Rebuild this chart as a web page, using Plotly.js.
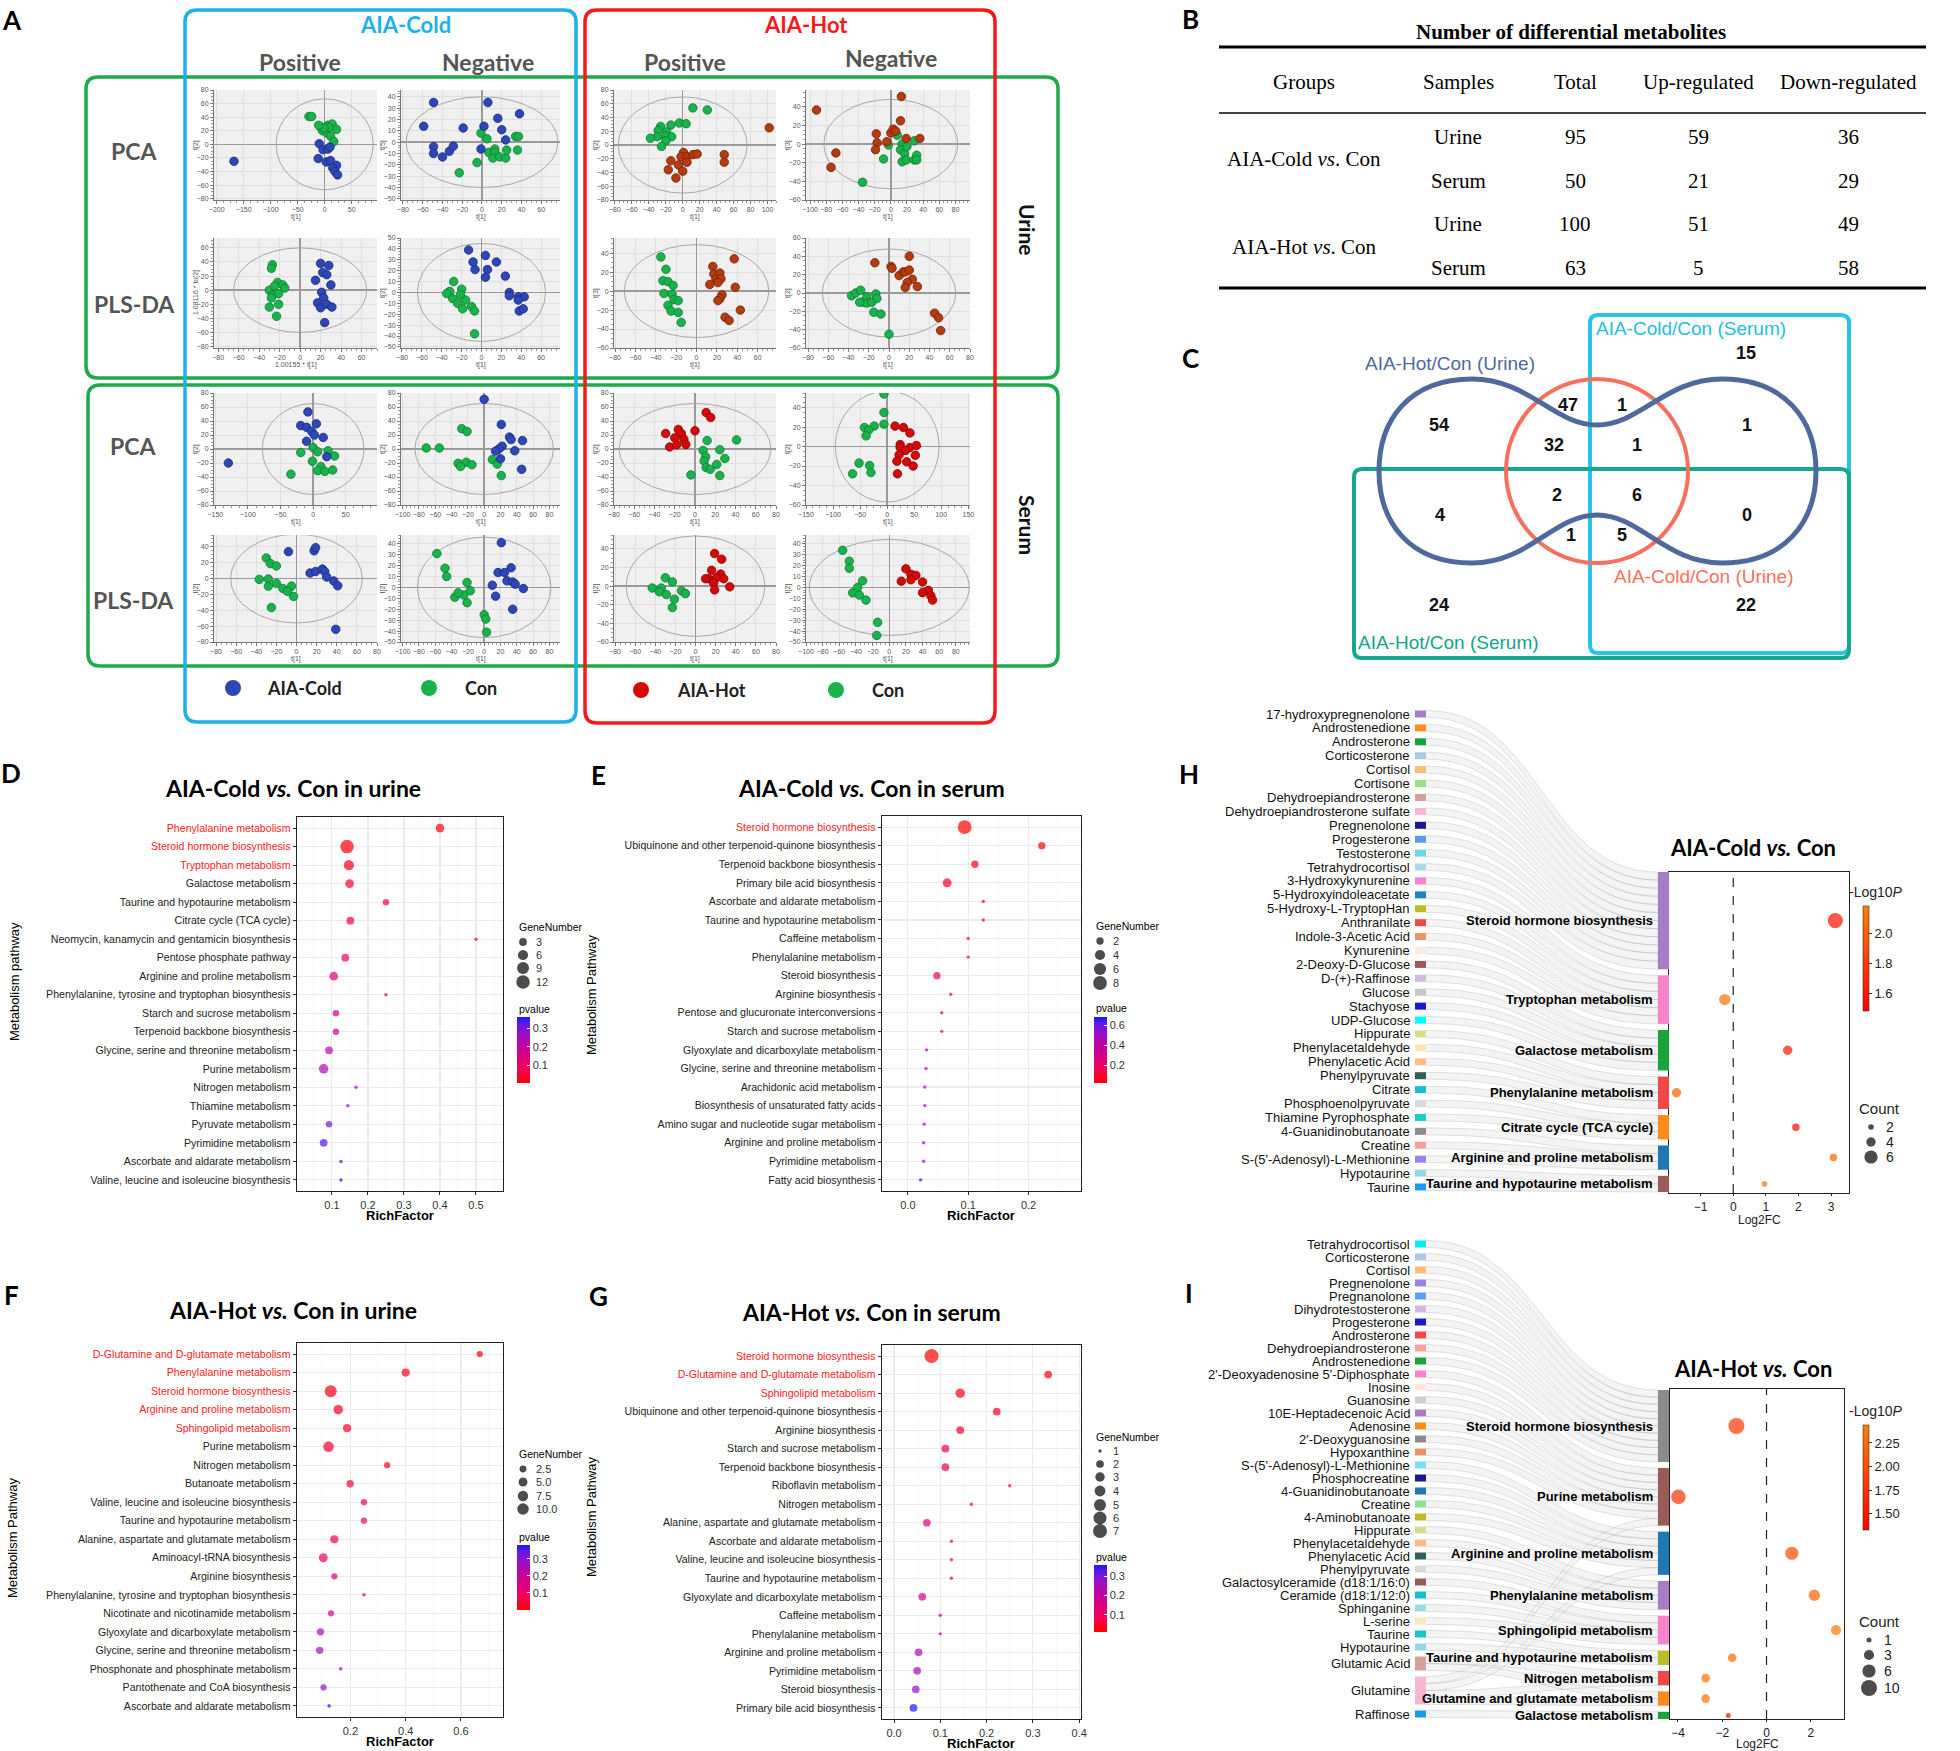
<!DOCTYPE html>
<html>
<head>
<meta charset="utf-8">
<script src="https://cdn.plot.ly/plotly-3.0.1.min.js"></script>
<style>html,body{margin:0;padding:0;background:#fff}#chart{width:1960px;height:1751px}</style>
</head>
<body>
<div id="chart"></div>
<script>
// ======================= DATA =======================
// ---- Panel A: score plots (t[1], t[2]) ----
const A1_cold_x=[-168,-10,-3,6,10,-12,3,11,22,15,19,24];
const A1_cold_y=[-25,1,-8,-7,-4,-21,-26,-24,-31,-35,-40,-45];
const A1_con_x=[-29,-24,-8,6,14,22,-4,4,8,11,17,-1,-11];
const A1_con_y=[41,41,26,28,30,22,20,17,25,12,4,24,28];
const A2_cold_x=[-49,6,38,-59,-19,2,16,20,24,-49,-49,-40,-33,-29,-1];
const A2_cold_y=[35,35,25,14,12.5,14,21,11,2,-4,-10,-13,-8,-3.5,-6];
const A2_con_x=[-1,5,7,13,13,11,18,24,25,34,37,36,-5,-23];
const A2_con_y=[8,3,-9,-6,-9,-14,-13,-14,-7,5,5,-7,-18,-27];
const A3_cold_x=[20,28,22,26,15,30,21,23,17,20,26,31,24];
const A3_cold_y=[38,35,25,22,14,7.5,-3,-11,-18,-25,-20,-24,-46];
const A3_con_x=[-27,-28,-22,-17,-15,-30,-27,-21,-28,-21,-30,-23,-25];
const A3_con_y=[36,31,11,7.5,3,0,-7,-5,-11,-20,-24,-37,6];
const A4_cold_x=[-13,4,-8.5,15,-6.5,6,4,24,28,28,37,43,37,38,42];
const A4_cold_y=[39,34,28,28,21,21,14,15,0,-3,-4,-4,-7,-17,-15];
const A4_con_x=[-28,-32,-35,-29,-20,-21,-16,-24,-19,-10,-7,-7];
const A4_con_y=[10,1,-1,-5.5,3,-2,-7,-10,-15,-13,-17,-38];
const A5_hot_x=[102,1,-2,5,12,17,5,-14,-5,0,-17,-8,49,49];
const A5_hot_y=[25,-11,-17,-17,-14,-13,-25,-23,-29,-38,-36,-48,-14,-25];
const A5_con_x=[12,29,-4,4,-14,-26,-29,-19,-20,-13,-30,-38,-20,-25];
const A5_con_y=[54,51,32,31,29,27,21,19,13,12,12,10,6,-2];
const A6_hot_x=[-92,13,12,-18,-17,-19,-5,0,3,6,19,36,-68,-74];
const A6_hot_y=[36.5,51,25,11,1.4,-6,2.5,12,16,14,6,6,-9.5,-25];
const A6_con_x=[8,14,12,17,20,29,14,19,29,32,32,-3,-9,-35];
const A6_con_y=[9.5,0,-6,-10,-2.5,3.5,-19,-17,-17,-12,-17,-1,-16,-41];
const A7_hot_x=[16,17,23,19,24,21,13,25,23,21,37,38,43,28,32];
const A7_hot_y=[26,18,19,12.5,13,9,7,-4,-8,-10,34,4,-20,-27.5,-31];
const A7_con_x=[-35,-30,-33,-28,-23,-32,-24,-22,-18,-28,-25,-18,-15];
const A7_con_y=[36,23,11,10,6,-2.5,-3.5,-9,-10,-15,-21,-22.5,-33];
const A8_hot_x=[-14,2,3,10,14,16,20,20,23,18,16,28,45,49,51];
const A8_hot_y=[33,29,27,19,23,23,25,40,15,11.5,6,7,-22,-27,-41];
const A8_con_x=[-37,-33,-28,-26,-22,-22,-17,-13,-12,-15,-8,0,-29];
const A8_con_y=[-3,0,3,-10,-4,-11,-10,-1,-6,-21,-23,-45,-10];
const A9_cold_x=[-130,-8,5,-19,-10,-2,2,15.5,-10,21];
const A9_cold_y=[-20,53,36,33.5,31,25,20,16.5,11,-11];
const A9_con_x=[0,7,-19,23,33,-1,12,7,18,30,-34];
const A9_con_y=[2,-4,-5,-2.5,-10,-17.5,-25,-31,-32,-30,-36];
const A10_cold_x=[0,21,31,33,47,22,18,14,37.5,20,46];
const A10_cold_y=[71,35,17,13.5,12,4,0,-3,-2.5,-14,-29];
const A10_con_x=[-71,-55,-27.5,-21,-32,-22,-15,-29,10,16,21];
const A10_con_y=[1.5,1.5,29,25,-20.5,-19,-22.5,-25,-15,-21.5,-38];
const A11_cold_x=[-8,17.5,19,13.5,19,25.7,28,30,37,41,39];
const A11_cold_y=[34,35,39,7,9,12,9,2,-3,-9,-64];
const A11_con_x=[-30,-26,-20,-37,-28,-28,-20,-13.5,-5,-3,-9,-25];
const A11_con_y=[26,19,16,-1,-0.5,-9.5,-6,-12.5,-9.5,-22.5,-16,-36.5];
const A12_cold_x=[21,17,25,33,28,35,10,48,14,35,38];
const A12_cold_y=[41,13.6,13.6,18,6,5,2,-1,-8,-20,3];
const A12_con_x=[-58,-48,-46,-21,-17,-25,-36,-32,-21,0,2,3];
const A12_con_y=[31,17.5,10,4.5,-3,-7,-9,-5,-14,-25,-29,-41];
const A13_hot_x=[11,15.5,-29,-16.5,-13.5,-20,-11,0,-25,-18,-9];
const A13_hot_y=[52,45,22,28,22,16,14,26,3,6,6.5];
const A13_con_x=[12,41,8,24.5,10.5,9,29.5,21.5,11,15,24.5,-4];
const A13_con_y=[12,13,-2,-1,-11,-17,-13.5,-22,-26.5,-29,-38,-37];
const A14_hot_x=[14.5,30,42,24,24,42,54,34,22,52,18,36,48,19];
const A14_hot_y=[21,19.5,14,2,-1,-1,1,-4,-8.5,-9,-15,-15.6,-20,-28];
const A14_con_x=[-6,-6,-6,-24,-42,-34,-39,-52,-32.5,-30,-64];
const A14_con_y=[54,35,23,21,19.5,17,11,-17,-19.5,-26.6,-28];
const A15_hot_x=[19,26,16,25,13,21,28,10,18,34,19];
const A15_hot_y=[35,29,17,13,8,9,8,8,3.5,-0.7,-4];
const A15_con_x=[-30,-23,-43,-34,-36,-29,-21,-14,-10,-23];
const A15_con_y=[9,4.6,-2,-2,-6,-9,-14,-5,-8,-23];
const A16_hot_x=[20,26,32,14.5,40,26,47,50,40,52];
const A16_hot_y=[17,12,11,5.7,5,7,-2.7,-7.7,-4.8,-11.6];
const A16_con_x=[-56,-48,-48,-32,-38,-44,-36,-28,-14,-15];
const A16_con_y=[34,24,17.5,6,0,-5,-7,-11.6,-32,-44];
// Hotelling T2 ellipse half-axes for each score plot
const A_ellipseA=[90,77,65,64.5,76,83,71,66,78,85,65.5,82,75,96,69,96];
const A_ellipseB=[67,40,60,45,70,48,49,48,65,65,56,46,65,57,54,44];
const A_xtitle=['t[1]','t[1]','1.00155 * t[1]','t[1]','t[1]','t[1]','t[1]','t[1]','t[1]','t[1]','t[1]','t[1]','t[1]','t[1]','t[1]','t[1]'];
const A_ytitle=['t[2]','t[5]','1.08116 * to[2]','t[2]','t[2]','t[3]','t[3]','t[2]','t[2]','t[2]','t[2]','t[2]','t[2]','t[2]','t[2]','t[2]'];
const A_groupNames=['AIA-Cold','Con','AIA-Hot','Con'];

// ---- Panel B: table ----
const B_header=['Groups','Samples','Total','Up-regulated','Down-regulated'];
const B_groups=['AIA-Cold <i>vs</i>. Con','AIA-Hot <i>vs</i>. Con'];
const B_samples=['Urine','Serum','Urine','Serum'];
const B_total=[95,50,100,63];
const B_up=[59,21,51,5];
const B_down=[36,29,49,58];

// ---- Panel C: Venn ----
const C_sets=['AIA-Hot/Con (Urine)','AIA-Cold/Con (Urine)','AIA-Cold/Con (Serum)','AIA-Hot/Con (Serum)'];
const C_regionCounts=[15,54,47,1,1,32,1,2,6,4,0,1,5,24,22];

// ---- Panels D-G: KEGG enrichment ----
const D_pathways=['Phenylalanine metabolism','Steroid hormone biosynthesis','Tryptophan metabolism','Galactose metabolism','Taurine and hypotaurine metabolism','Citrate cycle (TCA cycle)','Neomycin, kanamycin and gentamicin biosynthesis','Pentose phosphate pathway','Arginine and proline metabolism','Phenylalanine, tyrosine and tryptophan biosynthesis','Starch and sucrose metabolism','Terpenoid backbone biosynthesis','Glycine, serine and threonine metabolism','Purine metabolism','Nitrogen metabolism','Thiamine metabolism','Pyruvate metabolism','Pyrimidine metabolism','Ascorbate and aldarate metabolism','Valine, leucine and isoleucine biosynthesis'];
const D_rich=[0.40,0.142,0.147,0.149,0.25,0.151,0.50,0.137,0.105,0.25,0.111,0.111,0.092,0.077,0.167,0.144,0.092,0.077,0.125,0.125];
const D_genes=[4,12,6,4,2,3,1,3,4,1,2,2,3,5,1,1,2,3,1,1];
const D_p=[0.01,0.015,0.03,0.06,0.07,0.08,0.08,0.10,0.13,0.15,0.20,0.20,0.22,0.24,0.27,0.28,0.30,0.33,0.34,0.36];
const D_highlighted=3;

const E_pathways=['Steroid hormone biosynthesis','Ubiquinone and other terpenoid-quinone biosynthesis','Terpenoid backbone biosynthesis','Primary bile acid biosynthesis','Ascorbate and aldarate metabolism','Taurine and hypotaurine metabolism','Caffeine metabolism','Phenylalanine metabolism','Steroid biosynthesis','Arginine biosynthesis','Pentose and glucuronate interconversions','Starch and sucrose metabolism','Glyoxylate and dicarboxylate metabolism','Glycine, serine and threonine metabolism','Arachidonic acid metabolism','Biosynthesis of unsaturated fatty acids','Amino sugar and nucleotide sugar metabolism','Arginine and proline metabolism','Pyrimidine metabolism','Fatty acid biosynthesis'];
const E_rich=[0.094,0.222,0.111,0.065,0.125,0.125,0.10,0.10,0.048,0.071,0.056,0.056,0.031,0.030,0.028,0.028,0.027,0.026,0.026,0.021];
const E_genes=[8,2,2,3,1,1,1,1,2,1,1,1,1,1,1,1,1,1,1,1];
const E_p=[0.02,0.04,0.06,0.09,0.12,0.12,0.14,0.14,0.16,0.19,0.24,0.24,0.44,0.45,0.47,0.47,0.49,0.50,0.51,0.68];
const E_highlighted=1;

const F_pathways=['D-Glutamine and D-glutamate metabolism','Phenylalanine metabolism','Steroid hormone biosynthesis','Arginine and proline metabolism','Sphingolipid metabolism','Purine metabolism','Nitrogen metabolism','Butanoate metabolism','Valine, leucine and isoleucine biosynthesis','Taurine and hypotaurine metabolism','Alanine, aspartate and glutamate metabolism','Aminoacyl-tRNA biosynthesis','Arginine biosynthesis','Phenylalanine, tyrosine and tryptophan biosynthesis','Nicotinate and nicotinamide metabolism','Glyoxylate and dicarboxylate metabolism','Glycine, serine and threonine metabolism','Phosphonate and phosphinate metabolism','Pantothenate and CoA biosynthesis','Ascorbate and aldarate metabolism'];
const F_rich=[0.668,0.40,0.129,0.156,0.188,0.121,0.333,0.199,0.249,0.249,0.142,0.102,0.142,0.249,0.130,0.092,0.089,0.165,0.103,0.123];
const F_genes=[2,4,11,6,4,8,2,3,2,2,4,5,2,1,2,3,3,1,2,1];
const F_p=[0.01,0.015,0.02,0.03,0.035,0.04,0.05,0.06,0.07,0.07,0.09,0.11,0.14,0.16,0.18,0.25,0.26,0.28,0.29,0.38];
const F_highlighted=5;

const G_pathways=['Steroid hormone biosynthesis','D-Glutamine and D-glutamate metabolism','Sphingolipid metabolism','Ubiquinone and other terpenoid-quinone biosynthesis','Arginine biosynthesis','Starch and sucrose metabolism','Terpenoid backbone biosynthesis','Riboflavin metabolism','Nitrogen metabolism','Alanine, aspartate and glutamate metabolism','Ascorbate and aldarate metabolism','Valine, leucine and isoleucine biosynthesis','Taurine and hypotaurine metabolism','Glyoxylate and dicarboxylate metabolism','Caffeine metabolism','Phenylalanine metabolism','Arginine and proline metabolism','Pyrimidine metabolism','Steroid biosynthesis','Primary bile acid biosynthesis'];
const G_rich=[0.081,0.333,0.143,0.222,0.143,0.111,0.111,0.25,0.167,0.071,0.124,0.124,0.124,0.061,0.10,0.10,0.053,0.05,0.047,0.042];
const G_genes=[7,2,3,2,2,2,2,1,1,2,1,1,1,2,1,1,2,2,2,2];
const G_p=[0.01,0.02,0.03,0.04,0.05,0.07,0.07,0.10,0.12,0.14,0.15,0.15,0.15,0.18,0.19,0.19,0.23,0.24,0.27,0.36];
const G_highlighted=3;

// ---- Panel H ----
const H_metabolites=['17-hydroxypregnenolone','Androstenedione','Androsterone','Corticosterone','Cortisol','Cortisone','Dehydroepiandrosterone','Dehydroepiandrosterone sulfate','Pregnenolone','Progesterone','Testosterone','Tetrahydrocortisol','3-Hydroxykynurenine','5-Hydroxyindoleacetate','5-Hydroxy-L-TryptopHan','Anthranilate','Indole-3-Acetic Acid','Kynurenine','2-Deoxy-D-Glucose','D-(+)-Raffinose','Glucose','Stachyose','UDP-Glucose','Hippurate','Phenylacetaldehyde','Phenylacetic Acid','Phenylpyruvate','Citrate','Phosphoenolpyruvate','Thiamine Pyrophosphate','4-Guanidinobutanoate','Creatine',"S-(5'-Adenosyl)-L-Methionine",'Hypotaurine','Taurine'];
const H_metaboliteColors=['#A77DC6','#FF8C1A','#1AA33A','#AEC7E8','#FFBB78','#98DF8A','#D4A39B','#F7B6D2','#1A1A8C','#5A9BEB','#6FD6EA','#A8DCE8','#F782CE','#1A86BE','#BCBD22','#F24747','#E8956B','#FBEBDC','#9A5B56','#D2BADD','#C7C7C7','#1A1ACC','#00FFFF','#DBDB8D','#FFE3B5','#FFBD8A','#2F5F5A','#17BECF','#D9D9D9','#20C8C8','#8C8C8C','#F7A09A','#9A80F0','#90DAE3','#1A9AEF'];
const H_pathways=['Steroid hormone biosynthesis','Tryptophan metabolism','Galactose metabolism','Phenylalanine metabolism','Citrate cycle (TCA cycle)','Arginine and proline metabolism','Taurine and hypotaurine metabolism'];
const H_pathwayColors=['#A77DC6','#F782CE','#1AA33A','#F24747','#FF8C1A','#1F78B4','#9A5B56'];
const H_linkSource=[0,1,2,3,4,5,6,7,8,9,10,11,12,13,14,15,16,17,18,19,20,21,22,23,24,25,26,27,28,29,30,31,32,33,34];
const H_linkTarget=[0,0,0,0,0,0,0,0,0,0,0,0,1,1,1,1,1,1,2,2,2,2,2,3,3,3,3,4,4,4,5,5,5,6,6];
const H_log2fc=[3.13,-0.26,1.67,-1.74,1.92,3.07,0.96];
const H_count=[7,5,4,4,3,3,2];
const H_log10p=[1.55,2.1,1.6,2.0,1.52,2.02,2.12];

// ---- Panel I ----
const I_metabolites=['Tetrahydrocortisol','Corticosterone','Cortisol','Pregnenolone','Pregnanolone','Dihydrotestosterone','Progesterone','Androsterone','Dehydroepiandrosterone','Androstenedione',"2'-Deoxyadenosine 5'-Diphosphate",'Inosine','Guanosine','10E-Heptadecenoic Acid','Adenosine',"2'-Deoxyguanosine",'Hypoxanthine',"S-(5'-Adenosyl)-L-Methionine",'Phosphocreatine','4-Guanidinobutanoate','Creatine','4-Aminobutanoate','Hippurate','Phenylacetaldehyde','Phenylacetic Acid','Phenylpyruvate','Galactosylceramide (d18:1/16:0)','Ceramide (d18:1/12:0)','Sphinganine','L-serine','Taurine','Hypotaurine','Glutamic Acid','Glutamine','Raffinose'];
const I_metaboliteColors=['#00F0F0','#AEC7E8','#FFBB78','#9C80EF','#5DA0F0','#D5B8DC','#1A1ACC','#F24848','#FF9E9A','#1AA33A','#F782CE','#FDEBD8','#CFCFCF','#A77DC6','#FF8C1A','#8C8C8C','#E8946A','#7FDBF0','#1A1A8C','#1F78B4','#8EE08E','#BCBD22','#DBDB8D','#FFBB88','#2F5F5A','#D9D9D9','#9A5B56','#17BECF','#9EDAE5','#FFE8B8','#17C6C6','#8FD9E0','#D4A29A','#F7B6D2','#1A9AEF'];
const I_pathways=['Steroid hormone biosynthesis','Purine metabolism','Arginine and proline metabolism','Phenylalanine metabolism','Sphingolipid metabolism','Taurine and hypotaurine metabolism','Nitrogen metabolism','Glutamine and glutamate metabolism','Galactose metabolism'];
const I_pathwayColors=['#8C8C8C','#9A5B56','#1F78B4','#A77DC6','#F782CE','#BCBD22','#F24747','#FF8C1A','#1AA33A'];
const I_linkSource=[0,1,2,3,4,5,6,7,8,9,10,11,12,13,14,15,16,33,17,18,19,20,21,33,22,23,24,25,26,27,28,29,30,31,32,33,32,33,34];
const I_linkTarget=[0,0,0,0,0,0,0,0,0,0,1,1,1,1,1,1,1,1,2,2,2,2,2,2,3,3,3,3,4,4,4,4,5,5,6,6,7,7,8];
const I_log2fc=[-1.36,-3.98,1.14,2.16,3.14,-1.55,-2.75,-2.75,-1.73];
const I_count=[10,8,6,4,3,2,2,2,1];
const I_log10p=[1.8,1.75,1.95,2.15,2.35,2.25,2.3,2.3,1.4];

// ======================= BUILD =======================
const W=1960,H=1751;
const X=p=>p/W, Y=p=>1-p/H;
const SANS='"Liberation Sans", Arial, Helvetica, sans-serif';
const NARROW='"Liberation Sans Narrow", "Arial Narrow", "Liberation Sans", sans-serif';
const CAL='Lato, Carlito, Calibri, "Open Sans", sans-serif';
const SERIF='"Liberation Serif", "Times New Roman", serif';
const layout={width:W,height:H,margin:{l:0,r:0,t:0,b:0,pad:0},paper_bgcolor:'#ffffff',plot_bgcolor:'rgba(0,0,0,0)',showlegend:false,hovermode:false,shapes:[],annotations:[],font:{family:SANS,color:'#000'}};
const traces=[];
const shapes=layout.shapes, anns=layout.annotations;
let nAx=0;
function axes(x0,x1,y0,y1,xo,yo){
  nAx++; const s=nAx===1?'':String(nAx);
  layout['xaxis'+s]=Object.assign({domain:[X(x0),X(x1)],anchor:'y'+s,fixedrange:true},xo);
  layout['yaxis'+s]=Object.assign({domain:[Y(y1),Y(y0)],anchor:'x'+s,fixedrange:true},yo);
  return {x:'x'+s,y:'y'+s};
}
function Fn(family,size,color){return {family:family,size:size,color:color||'#000'};}
function ann(x,y,text,font,opt){anns.push(Object.assign({xref:'paper',yref:'paper',x:X(x),y:Y(y),text:text,showarrow:false,xanchor:'center',yanchor:'middle',font:font},opt||{}));}
// page pixel axes
const pg=axes(0,W,0,H,{range:[0,W],visible:false},{range:[H,0],visible:false});
function rrect(x0,y0,x1,y1,r){return `M${x0+r},${y0} L${x1-r},${y0} Q${x1},${y0} ${x1},${y0+r} L${x1},${y1-r} Q${x1},${y1} ${x1-r},${y1} L${x0+r},${y1} Q${x0},${y1} ${x0},${y1-r} L${x0},${y0+r} Q${x0},${y0} ${x0+r},${y0} Z`;}
function pshape(path,color,width,layer){shapes.push({type:'path',xref:pg.x,yref:pg.y,path:path,line:{color:color,width:width},fillcolor:'rgba(0,0,0,0)',layer:layer||'above'});}
function hline(x0,x1,y,color,width){shapes.push({type:'line',xref:pg.x,yref:pg.y,x0:x0,x1:x1,y0:y,y1:y,line:{color:color,width:width}});}

// panel letters
[['A',12,20],['B',1190,19],['C',1190,358],['D',11,773],['E',598,775],['F',11,1295],['G',598,1296],['H',1189,774],['I',1189,1293]].forEach(l=>ann(l[1],l[2],'<b>'+l[0]+'</b>',Fn(CAL,26,'#000')));

// ---------------- Panel A ----------------
const COLD={fill:'#2E47B8',edge:'#1B2A7A'}, CON={fill:'#19B24B',edge:'#0D7A31'}, HOTU={fill:'#B53B10',edge:'#6E2105'}, HOTS={fill:'#D40A0A',edge:'#8A0000'};
const A_cols=[[214,377],[401,560],[614,776],[806,970]];
const A_rows=[[90,200],[238,348],[393,505],[535,642]];
const A_place=[[0,0],[1,0],[0,1],[1,1],[2,0],[3,0],[2,1],[3,1],[0,2],[1,2],[0,3],[1,3],[2,2],[3,2],[2,3],[3,3]];
const A_xrange=[[-205,97],[-82,79],[-84,75],[-81,79],[-81,110],[-105,98],[-81,78],[-82,80],[-152,98],[-102,93],[-82,80],[-102,93],[-80,80],[-150,153],[-81,80],[-100,97]];
const A_yrange=[[-82,80],[-51,46],[-82,74],[-51,50],[-80,80],[-60,58],[-60,56],[-60,60],[-80,80],[-80,80],[-80,55],[-50,48],[-80,80],[-60,55],[-60,55],[-50,48]];
const A_xd=[50,20,20,20,20,20,20,20,50,20,20,20,20,50,20,20];
const A_yd=[20,10,20,10,20,20,20,20,20,20,20,10,20,20,20,10];
const A_g1=[[A1_cold_x,A1_cold_y],[A2_cold_x,A2_cold_y],[A3_cold_x,A3_cold_y],[A4_cold_x,A4_cold_y],[A5_hot_x,A5_hot_y],[A6_hot_x,A6_hot_y],[A7_hot_x,A7_hot_y],[A8_hot_x,A8_hot_y],[A9_cold_x,A9_cold_y],[A10_cold_x,A10_cold_y],[A11_cold_x,A11_cold_y],[A12_cold_x,A12_cold_y],[A13_hot_x,A13_hot_y],[A14_hot_x,A14_hot_y],[A15_hot_x,A15_hot_y],[A16_hot_x,A16_hot_y]];
const A_g2=[[A1_con_x,A1_con_y],[A2_con_x,A2_con_y],[A3_con_x,A3_con_y],[A4_con_x,A4_con_y],[A5_con_x,A5_con_y],[A6_con_x,A6_con_y],[A7_con_x,A7_con_y],[A8_con_x,A8_con_y],[A9_con_x,A9_con_y],[A10_con_x,A10_con_y],[A11_con_x,A11_con_y],[A12_con_x,A12_con_y],[A13_con_x,A13_con_y],[A14_con_x,A14_con_y],[A15_con_x,A15_con_y],[A16_con_x,A16_con_y]];
for(let i=0;i<16;i++){
  const [c,r]=A_place[i];
  const tf=Fn(SANS,7,'#555');
  const common={showgrid:true,gridcolor:'#DFDFDF',gridwidth:1,zeroline:true,zerolinecolor:'#9A9A9A',zerolinewidth:1.4,showline:true,linecolor:'#777',linewidth:1,ticks:'outside',ticklen:3,tickcolor:'#777',tickfont:tf,tickmode:'linear',tick0:0};
  const x0=A_cols[c][0],x1=A_cols[c][1],y0=A_rows[r][0],y1=A_rows[r][1];
  const a=axes(x0,x1,y0,y1,
    Object.assign({},common,{range:A_xrange[i],dtick:A_xd[i],minor:{ticks:'outside',ticklen:2,tickcolor:'#999',dtick:A_xd[i]/4}}),
    Object.assign({},common,{range:A_yrange[i],dtick:A_yd[i],minor:{ticks:'outside',ticklen:2,tickcolor:'#999',dtick:A_yd[i]/4}}));
  ann((x0+x1)/2,y1+17,A_xtitle[i],tf);
  ann(x0-18,(y0+y1)/2,A_ytitle[i],tf,{textangle:-90});
  shapes.push({type:'rect',xref:a.x+' domain',yref:a.y+' domain',x0:0,x1:1,y0:0,y1:1,fillcolor:'#F0F0F0',line:{width:0},layer:'below'});
  shapes.push({type:'circle',xref:a.x,yref:a.y,x0:-A_ellipseA[i],x1:A_ellipseA[i],y0:-A_ellipseB[i],y1:A_ellipseB[i],line:{color:'#A8A8A8',width:1},fillcolor:'rgba(0,0,0,0)',layer:'between'});
  const g1c = i<4||(i>=8&&i<12) ? COLD : (i<8 ? HOTU : HOTS);
  traces.push({type:'scatter',mode:'markers',x:A_g2[i][0],y:A_g2[i][1],xaxis:a.x,yaxis:a.y,marker:{size:8.5,color:CON.fill,line:{color:CON.edge,width:0.8}},hoverinfo:'skip'});
  traces.push({type:'scatter',mode:'markers',x:A_g1[i][0],y:A_g1[i][1],xaxis:a.x,yaxis:a.y,marker:{size:8.5,color:g1c.fill,line:{color:g1c.edge,width:0.8}},hoverinfo:'skip'});
}
// boxes
pshape(rrect(86,77,1058,378,12),'#1EAA48',3.5);
pshape(rrect(88,385,1058,666,12),'#1EAA48',3.5);
pshape(rrect(185,10,576,722,12),'#1DB0EA',3.5);
pshape(rrect(585,10,995,723,12),'#F41A1A',3.5);
ann(405,25,'<b>AIA-Cold</b>',Fn(CAL,22,'#1DB0EA'));
ann(806,25,'<b>AIA-Hot</b>',Fn(CAL,22,'#F41A1A'));
ann(300,62,'<b>Positive</b>',Fn(CAL,23,'#555'));
ann(488,62,'<b>Negative</b>',Fn(CAL,23,'#555'));
ann(685,62,'<b>Positive</b>',Fn(CAL,23,'#555'));
ann(891,58,'<b>Negative</b>',Fn(CAL,23,'#555'));
ann(134,151,'<b>PCA</b>',Fn(CAL,23,'#555'));
ann(134,304,'<b>PLS-DA</b>',Fn(CAL,23,'#555'));
ann(133,446,'<b>PCA</b>',Fn(CAL,23,'#555'));
ann(133,600,'<b>PLS-DA</b>',Fn(CAL,23,'#555'));
ann(1028,229,'<b>Urine</b>',Fn(CAL,21,'#111'),{textangle:90});
ann(1028,525,'<b>Serum</b>',Fn(CAL,21,'#111'),{textangle:90});
// legend of panel A
const A_legX=[233,429,641,836], A_legTX=[304,481,711,888], A_legY=[688,688,690,690];
traces.push({type:'scatter',mode:'markers',x:A_legX,y:A_legY,xaxis:pg.x,yaxis:pg.y,marker:{size:16,color:[COLD.fill,CON.fill,HOTS.fill,CON.fill]},hoverinfo:'skip'});
A_groupNames.forEach((n,k)=>ann(A_legTX[k],A_legY[k],'<b>'+n+'</b>',Fn(CAL,18,'#222')));

// ---------------- Panel B ----------------
ann(1571,32,'<b>Number of differential metabolites</b>',Fn(SERIF,21,'#000'));
hline(1219,1926,47,'#000',3);
hline(1219,1926,113,'#000',1.5);
hline(1219,1926,288,'#000',3);
const B_colX=[1304,1458,1575,1698,1848], B_rowY=[137,181,224,268];
B_header.forEach((h,k)=>ann(B_colX[k],82,h,Fn(SERIF,21,'#000')));
B_groups.forEach((g,k)=>ann(B_colX[0],[159,247][k],g,Fn(SERIF,21,'#000')));
B_samples.forEach((s,k)=>{
  ann(B_colX[1],B_rowY[k],s,Fn(SERIF,21,'#000'));
  ann(B_colX[2],B_rowY[k],String(B_total[k]),Fn(SERIF,21,'#000'));
  ann(B_colX[3],B_rowY[k],String(B_up[k]),Fn(SERIF,21,'#000'));
  ann(B_colX[4],B_rowY[k],String(B_down[k]),Fn(SERIF,21,'#000'));
});

// ---------------- Panel C ----------------
pshape(rrect(1590,315,1849,653,8),'#27C4E5',4);
pshape(rrect(1354,469,1849,658,8),'#13A98F',4);
shapes.push({type:'circle',xref:pg.x,yref:pg.y,x0:1506,x1:1688,y0:379,y1:563,line:{color:'#F7705E',width:4},fillcolor:'rgba(0,0,0,0)'});
pshape('M1597,425 C1640,425 1665,379 1722,379 C1785,379 1816,420 1816,471 C1816,522 1785,563 1722,563 C1665,563 1640,515 1597,515 C1554,515 1529,563 1472,563 C1409,563 1379,522 1379,471 C1379,420 1409,379 1472,379 C1529,379 1554,425 1597,425 Z','#4E6A9D',5);
const C_labelPos=[[1450,364,'#4E6A9D'],[1704,576,'#F7705E'],[1691,328,'#22BFE0'],[1448,643,'#10A58C']];
C_sets.forEach((s,k)=>ann(C_labelPos[k][0],C_labelPos[k][1],s,Fn(NARROW,19,C_labelPos[k][2])));
const C_pos=[[1746,353],[1439,425],[1568,405],[1622,405],[1747,425],[1554,445],[1637,445],[1557,495],[1637,495],[1440,515],[1747,515],[1571,535],[1622,535],[1439,605],[1746,605]];
C_regionCounts.forEach((v,k)=>ann(C_pos[k][0],C_pos[k][1],'<b>'+v+'</b>',Fn(SANS,18,'#111')));

// ---------------- Panels D-G ----------------
const PV_SCALE=[[0,'#FF0000'],[0.25,'#EE0062'],[0.5,'#CC0095'],[0.75,'#9A10C8'],[0.9,'#6018E6'],[1,'#1A1AFF']];
function sizeLegend(x,titleY,title,vals,labels,ys,fn,dotX,labX,titleFont,labFont){
  ann(x,titleY,title,titleFont,{xanchor:'left'});
  traces.push({type:'scatter',mode:'markers',x:ys.map(()=>dotX),y:ys,xaxis:pg.x,yaxis:pg.y,marker:{size:vals.map(fn),sizemode:'diameter',color:'#000',line:{width:0}},hoverinfo:'skip'});
  labels.forEach((l,k)=>ann(labX,ys[k],l,labFont,{xanchor:'left'}));
}
function bubblePanel(c){
  const grid={showgrid:true,gridcolor:'#EBEBEB',gridwidth:1.1,showline:true,mirror:true,linecolor:'#222',linewidth:1.4,ticks:'outside',ticklen:3,tickcolor:'#333',zeroline:false};
  const a=axes(c.x0,c.x1,c.y0,c.y1,
    Object.assign({},grid,{range:c.xr,tickmode:'linear',tick0:0,dtick:c.dt,tickformat:'.1f',tickfont:Fn(SANS,11,'#333'),minor:{dtick:c.dt/2,tick0:0,showgrid:true,gridcolor:'#F6F6F6',gridwidth:0.8}}),
    Object.assign({},grid,{type:'category',categoryorder:'array',categoryarray:c.names,range:[c.names.length-0.4,-0.6],tickmode:'array',tickvals:c.names,ticktext:c.names.map((n,k)=>k<c.hl?'<span style="color:#FF1A1A">'+n+'</span>':n),tickfont:Fn(SANS,10.6,'#222')}));
  traces.push({type:'scatter',mode:'markers',x:c.rich,y:c.names,xaxis:a.x,yaxis:a.y,hoverinfo:'skip',
    marker:{size:c.genes.map(c.sz),sizemode:'diameter',color:c.p,cmin:c.cmin,cmax:c.cmax,colorscale:PV_SCALE,line:{width:0},showscale:true,
      colorbar:{x:X(c.cbx),xanchor:'left',xpad:0,y:Y(c.cbBot),yanchor:'bottom',ypad:0,len:(c.cbBot-c.cbTop)/H,lenmode:'fraction',thickness:13,thicknessmode:'pixels',outlinewidth:0,tickmode:'array',tickvals:c.cbTicks,ticktext:c.cbTicks.map(v=>v.toFixed(1)),ticks:'inside',ticklen:3,tickcolor:'#fff',tickfont:Fn(SANS,11,'#333')}}});
  ann(c.tx,c.ty,'<b>'+c.title+'</b>',Fn(CAL,23,'#000'));
  ann(c.ytx,c.yty,c.ytitle,Fn(SANS,13,'#000'),{textangle:-90});
  ann(c.xtx,c.xty,'<b>RichFactor</b>',Fn(SANS,13,'#000'));
  ann(c.cbx,c.pY,'pvalue',Fn(SANS,10.5,'#000'),{xanchor:'left'});
  sizeLegend(c.cbx,c.gY,'GeneNumber',c.lv,c.ll,c.lys,c.sz,c.cbx+6,c.cbx+17,Fn(SANS,10.5,'#000'),Fn(SANS,11,'#333'));
}
bubblePanel({x0:297,x1:503,y0:817,y1:1191,xr:[0.003,0.575],dt:0.1,names:D_pathways,rich:D_rich,genes:D_genes,p:D_p,hl:D_highlighted,cmin:0.005,cmax:0.36,
  sz:g=>3.5+10*Math.sqrt((g-1)/11),cbx:517,cbTop:1017,cbBot:1083,cbTicks:[0.1,0.2,0.3],title:'AIA-Cold <i>vs.</i> Con in urine',tx:293,ty:788,
  ytitle:'Metabolism pathway',ytx:14,yty:982,xtx:400,xty:1215,pY:1009,gY:927,lv:[3,6,9,12],ll:['3','6','9','12'],lys:[942,955,968,982]});
bubblePanel({x0:882,x1:1081,y0:816,y1:1191,xr:[-0.043,0.287],dt:0.1,names:E_pathways,rich:E_rich,genes:E_genes,p:E_p,hl:E_highlighted,cmin:0.02,cmax:0.68,
  sz:g=>3.4+10.4*Math.sqrt((g-1)/7),cbx:1094,cbTop:1017,cbBot:1083,cbTicks:[0.2,0.4,0.6],title:'AIA-Cold <i>vs.</i> Con in serum',tx:871,ty:788,
  ytitle:'Metabolism Pathway',ytx:591,yty:995,xtx:981,xty:1215,pY:1008,gY:926,lv:[2,4,6,8],ll:['2','4','6','8'],lys:[941,955,969,983]});
bubblePanel({x0:297,x1:503,y0:1343,y1:1717,xr:[0.007,0.752],dt:0.2,names:F_pathways,rich:F_rich,genes:F_genes,p:F_p,hl:F_highlighted,cmin:0.0,cmax:0.38,
  sz:g=>3.6+8.4*Math.sqrt((g-1)/10),cbx:517,cbTop:1545,cbBot:1610,cbTicks:[0.1,0.2,0.3],title:'AIA-Hot <i>vs.</i> Con in urine',tx:293,ty:1310,
  ytitle:'Metabolism Pathway',ytx:12,yty:1538,xtx:400,xty:1741,pY:1537,gY:1454,lv:[2.5,5,7.5,10],ll:['2.5','5.0','7.5','10.0'],lys:[1469,1482,1496,1509]});
bubblePanel({x0:882,x1:1081,y0:1345,y1:1719,xr:[-0.026,0.404],dt:0.1,names:G_pathways,rich:G_rich,genes:G_genes,p:G_p,hl:G_highlighted,cmin:0.01,cmax:0.36,
  sz:g=>3.4+10.6*Math.sqrt((g-1)/6),cbx:1094,cbTop:1565,cbBot:1632,cbTicks:[0.1,0.2,0.3],title:'AIA-Hot <i>vs.</i> Con in serum',tx:871,ty:1312,
  ytitle:'Metabolism Pathway',ytx:591,yty:1517,xtx:981,xty:1743,pY:1557,gY:1437,lv:[1,2,3,4,5,6,7],ll:['1','2','3','4','5','6','7'],lys:[1451,1464,1477,1491,1505,1518,1531]});

// ---------------- Panels H & I ----------------
function bez(p0,p1,p2,p3,t){const u=1-t;return u*u*u*p0+3*u*u*t*p1+3*u*t*t*p2+t*t*t*p3;}
function sankey(c){
  const nL=c.left.length,nR=c.paths.length;
  const cntL=new Array(nL).fill(0),cntR=new Array(nR).fill(0);
  c.src.forEach((s,k)=>{cntL[s]++;cntR[c.tgt[k]]++;});
  const tot=c.src.length;
  const gL=(c.lBot-c.lTop-tot*c.uL)/(nL-1), gR=(c.rBot-c.rTop-tot*c.uR)/(nR-1);
  const Ly=[],Ry=[];let y=c.lTop;
  for(let k=0;k<nL;k++){Ly.push([y,y+cntL[k]*c.uL]);y+=cntL[k]*c.uL+gL;}
  y=c.rTop;for(let k=0;k<nR;k++){Ry.push([y,y+cntR[k]*c.uR]);y+=cntR[k]*c.uR+gR;}
  const idx=c.src.map((s,k)=>k);
  const lCur=Ly.map(v=>v[0]),rCur=Ry.map(v=>v[0]);const lS={},rS={};
  [...idx].sort((a,b)=>c.src[a]-c.src[b]||c.tgt[a]-c.tgt[b]).forEach(k=>{lS[k]=lCur[c.src[k]];lCur[c.src[k]]+=c.uL;});
  [...idx].sort((a,b)=>c.tgt[a]-c.tgt[b]||c.src[a]-c.src[b]).forEach(k=>{rS[k]=rCur[c.tgt[k]];rCur[c.tgt[k]]+=c.uR;});
  const xs=[],ys=[],xL=1426,xR=1658,xm=(xL+xR)/2,N=28;
  idx.forEach(k=>{
    const a0=lS[k],a1=lS[k]+c.uL,b0=rS[k],b1=rS[k]+c.uR;
    for(let i=0;i<=N;i++){const t=i/N;xs.push(bez(xL,xm,xm,xR,t));ys.push(bez(a0,a0,b0,b0,t));}
    for(let i=N;i>=0;i--){const t=i/N;xs.push(bez(xL,xm,xm,xR,t));ys.push(bez(a1,a1,b1,b1,t));}
    xs.push(null);ys.push(null);
  });
  traces.push({type:'scatter',mode:'lines',x:xs,y:ys,xaxis:pg.x,yaxis:pg.y,fill:'toself',fillcolor:'rgba(215,215,215,0.28)',line:{color:'rgba(160,160,160,0.5)',width:0.6},hoverinfo:'skip'});
  Ly.forEach((v,k)=>{shapes.push({type:'rect',xref:pg.x,yref:pg.y,x0:1415,x1:1426,y0:v[0],y1:v[1],fillcolor:c.leftColors[k],line:{width:0}});
    ann(1412,(v[0]+v[1])/2,c.left[k],Fn(NARROW,13,'#111'),{xanchor:'right'});});
  Ry.forEach((v,k)=>{shapes.push({type:'rect',xref:pg.x,yref:pg.y,x0:1658,x1:1669,y0:v[0],y1:v[1],fillcolor:c.pathColors[k],line:{width:0}});
    ann(1655,(v[0]+v[1])/2,'<b>'+c.paths[k]+'</b>',Fn(NARROW,13,'#000'),{xanchor:'right'});});
  return Ry.map(v=>(v[0]+v[1])/2);
}
function fcPanel(c,centers){
  const box={showline:true,mirror:true,linecolor:'#222',linewidth:1.4,zeroline:false,showgrid:false};
  const a=axes(c.bx0,c.bx1,c.by0,c.by1,
    Object.assign({},box,{range:c.xr,tickmode:'array',tickvals:c.xticks,ticks:'outside',ticklen:2,tickcolor:'#222',tickfont:Fn(NARROW,12,'#222')}),
    Object.assign({},box,{range:[c.by1,c.by0],showticklabels:false,ticks:''}));
  shapes.push({type:'line',xref:a.x,yref:a.y+' domain',x0:0,x1:0,y0:0,y1:1,line:{color:'#222',width:1.2,dash:'dash'}});
  traces.push({type:'scatter',mode:'markers',x:c.fc,y:centers,xaxis:a.x,yaxis:a.y,hoverinfo:'skip',
    marker:{size:c.count.map(c.sz),sizemode:'diameter',color:c.lp,cmin:c.cmin,cmax:c.cmax,colorscale:[[0,'#FF0000'],[1,'#FF8000']],line:{width:0},showscale:true,
      colorbar:{x:X(1863),xanchor:'left',xpad:0,y:Y(c.cbBot),yanchor:'bottom',ypad:0,len:(c.cbBot-c.cbTop)/H,lenmode:'fraction',thickness:6,outlinewidth:0.6,outlinecolor:'#333',tickmode:'array',tickvals:c.cbTicks,ticktext:c.cbText,ticks:'outside',ticklen:3,tickcolor:'#333',tickfont:Fn(NARROW,13,'#222')}}});
  ann(1753,c.titleY,'<b>'+c.title+'</b>',Fn(CAL,22,'#000'));
  ann(c.logX,c.logY,'Log2FC',Fn(NARROW,12,'#222'));
  ann(1876,c.cbTop-14,'-Log10<i>P</i>',Fn(NARROW,14,'#222'));
  sizeLegend(1857,c.cY,'Count',c.lv,c.lv.map(String),c.lys,c.sz,c.dotX,c.dotX+13,Fn(NARROW,15,'#222'),Fn(NARROW,14,'#222'));
}
const Hc=sankey({left:H_metabolites,leftColors:H_metaboliteColors,paths:H_pathways,pathColors:H_pathwayColors,src:H_linkSource,tgt:H_linkTarget,lTop:710.5,lBot:1190.5,uL:7,rTop:872,rBot:1192,uR:8.1});
fcPanel({bx0:1669,bx1:1849,by0:872,by1:1193,xr:[-1.97,3.55],xticks:[-1,0,1,2,3],fc:H_log2fc,count:H_count,lp:H_log10p,sz:c=>1.8+1.9*c,cmin:1.48,cmax:2.18,
  cbTop:906,cbBot:1011,cbTicks:[1.6,1.8,2.0],cbText:['1.6','1.8','2.0'],title:'AIA-Cold <i>vs.</i> Con',titleY:848,logX:1759,logY:1220,cY:1108,lv:[2,4,6],lys:[1127,1142,1157],dotX:1871},Hc);
const Ic=sankey({left:I_metabolites,leftColors:I_metaboliteColors,paths:I_pathways,pathColors:I_pathwayColors,src:I_linkSource,tgt:I_linkTarget,lTop:1240.5,lBot:1717.5,uL:7,rTop:1390,rBot:1719,uR:7.2});
fcPanel({bx0:1670,bx1:1844,by0:1389,by1:1719,xr:[-4.36,3.5],xticks:[-4,-2,0,2],fc:I_log2fc,count:I_count,lp:I_log10p,sz:c=>5+11*Math.sqrt((c-1)/9),cmin:1.33,cmax:2.44,
  cbTop:1425,cbBot:1530,cbTicks:[1.5,1.75,2.0,2.25],cbText:['1.50','1.75','2.00','2.25'],title:'AIA-Hot <i>vs.</i> Con',titleY:1368,logX:1757,logY:1744,cY:1621,lv:[1,3,6,10],lys:[1640,1655,1671,1688],dotX:1869},Ic);

Plotly.newPlot('chart',traces,layout,{staticPlot:true,displayModeBar:false});
</script>
</body>
</html>
